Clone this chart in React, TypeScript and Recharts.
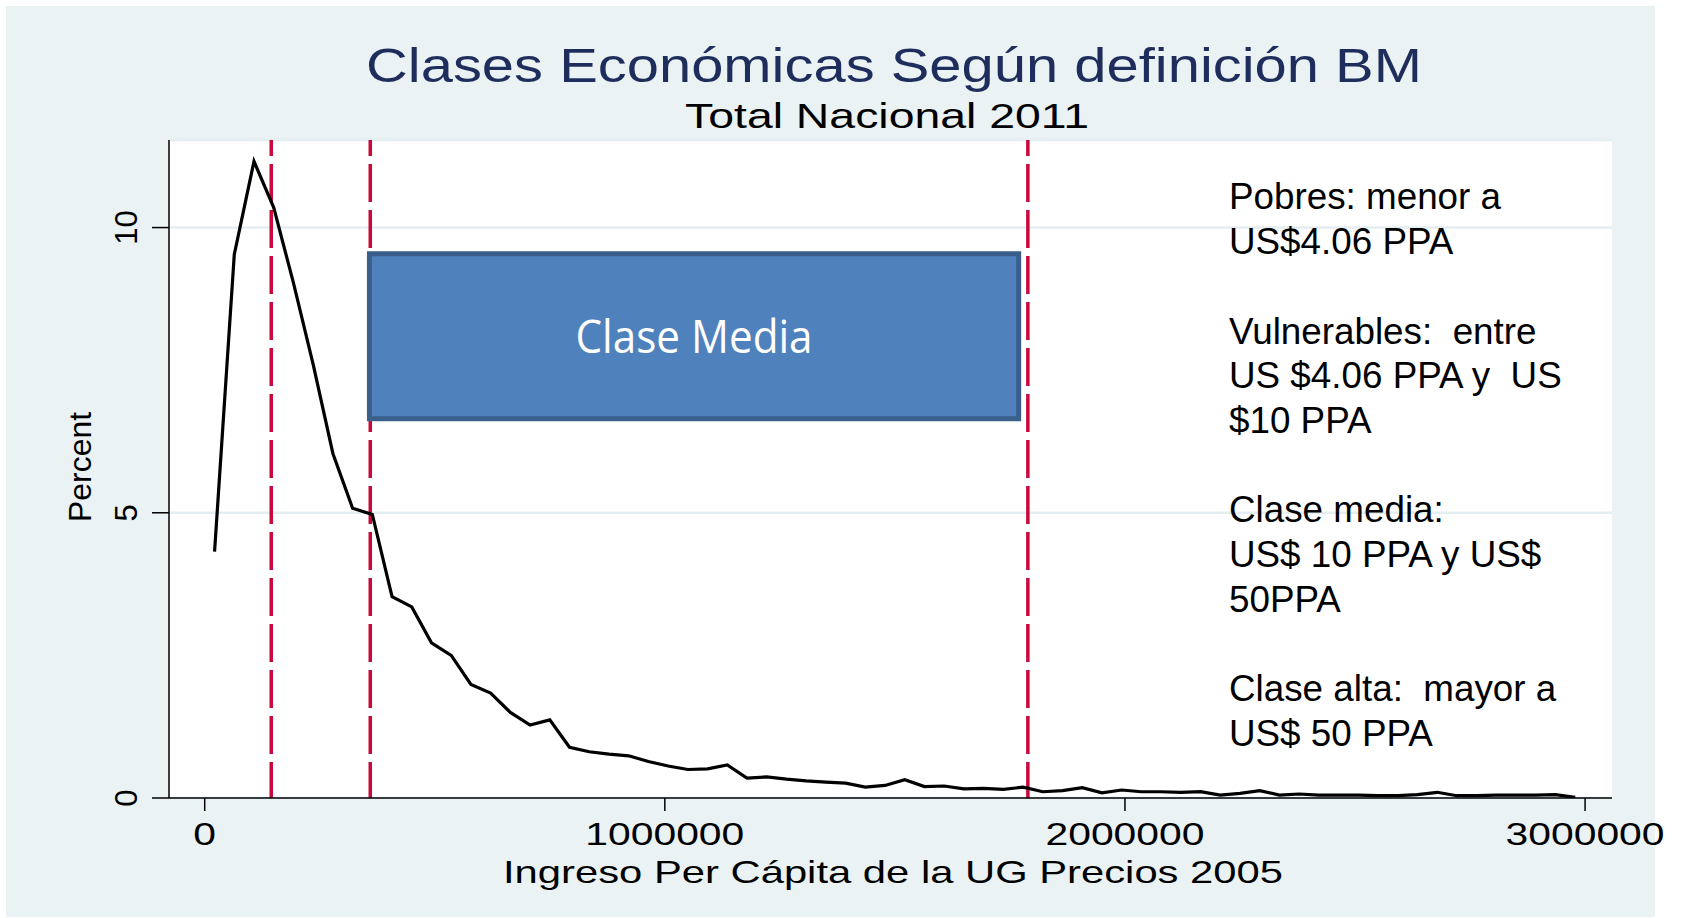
import { LineChart, Line, XAxis, YAxis, CartesianGrid, ReferenceLine, ReferenceArea } from "recharts";

// bin midpoints of per-capita income (Precios 2005)
const income = [
  21429, 64286, 107143, 150000, 192857, 235714, 278571, 321429, 364286, 407143,
  450000, 492857, 535714, 578571, 621429, 664286, 707143, 750000, 792857, 835714,
  878571, 921429, 964286, 1007143, 1050000, 1092857, 1135714, 1178571, 1221429, 1264286,
  1307143, 1350000, 1392857, 1435714, 1478571, 1521429, 1564286, 1607143, 1650000, 1692857,
  1735714, 1778571, 1821429, 1864286, 1907143, 1950000, 1992857, 2035714, 2078571, 2121429,
  2164286, 2207143, 2250000, 2292857, 2335714, 2378571, 2421429, 2464286, 2507143, 2550000,
  2592857, 2635714, 2678571, 2721429, 2764286, 2807143, 2850000, 2892857, 2935714, 2978571,
];

const percent = [
  4.32, 9.53, 11.16, 10.35, 9.03, 7.6, 6.04, 5.08, 4.97, 3.53,
  3.35, 2.72, 2.5, 1.99, 1.84, 1.5, 1.28, 1.37, 0.89, 0.81,
  0.77, 0.74, 0.64, 0.56, 0.5, 0.51, 0.58, 0.35, 0.37, 0.33,
  0.3, 0.28, 0.26, 0.19, 0.22, 0.32, 0.2, 0.21, 0.16, 0.17,
  0.15, 0.19, 0.11, 0.13, 0.18, 0.09, 0.14, 0.11, 0.11, 0.1,
  0.11, 0.05, 0.08, 0.13, 0.05, 0.07, 0.05, 0.05, 0.05, 0.04,
  0.04, 0.06, 0.1, 0.04, 0.04, 0.05, 0.05, 0.05, 0.06, 0.01,
];

// class thresholds (vertical dashed lines)
const cutoffs = [144600, 359800, 1789000];

const xTicks = [0, 1000000, 2000000, 3000000];
const yTicks = [0, 5, 10];

// "Clase Media" box, in data units
const boxX = [358000, 1769000];
const boxY = [6.65, 9.54];
const boxLabel = "Clase Media";

const notes = [
  ["Pobres: menor a", "US$4.06 PPA"],
  ["Vulnerables:  entre", "US $4.06 PPA y  US", "$10 PPA"],
  ["Clase media:", "US$ 10 PPA y US$", "50PPA"],
  ["Clase alta:  mayor a", "US$ 50 PPA"],
];

const data = income.map((x, i) => ({ income: x, percent: percent[i] }));

const FONT = "'Liberation Sans', Arial, sans-serif";

const XTick = ({ x, y, payload }: any) => {
  const s = String(payload.value);
  return (
    <text
      x={x}
      y={y + 32}
      textAnchor="middle"
      fontFamily={FONT}
      fontSize={31}
      fill="#000"
      textLength={22.7 * s.length}
      lengthAdjust="spacingAndGlyphs"
    >
      {s}
    </text>
  );
};

const YTick = ({ x, y, payload }: any) => (
  <text
    x={x - 13}
    y={y}
    transform={`rotate(-90 ${x - 13} ${y})`}
    textAnchor="middle"
    fontFamily={FONT}
    fontSize={31}
    fill="#000"
  >
    {payload.value}
  </text>
);

const BoxText = ({ viewBox }: any) => {
  const cx = viewBox.x + viewBox.width / 2;
  const cy = viewBox.y + viewBox.height / 2;
  return (
    <text
      x={cx}
      y={cy + 17}
      textAnchor="middle"
      fill="#fff"
      fontFamily="'Open Sans', 'Noto Sans', sans-serif"
      fontSize={46}
      textLength={237}
      lengthAdjust="spacingAndGlyphs"
    >
      {boxLabel}
    </text>
  );
};

function NoteLines() {
  let row = 0;
  const out: JSX.Element[] = [];
  notes.forEach((para) => {
    para.forEach((line) => {
      out.push(
        <text
          key={row}
          x={1229}
          y={209.4 + row * 44.7}
          fontFamily={FONT}
          fontSize={36.8}
          fill="#000"
          xmlSpace="preserve"
          style={{ whiteSpace: "pre" }}
        >
          {line}
        </text>
      );
      row++;
    });
    row++;
  });
  return <>{out}</>;
}

export default function App() {
  return (
    <div style={{ position: "absolute", left: 0, top: 0, width: 1687, height: 918, background: "#fff" }}>
      <div style={{ position: "absolute", left: 6, top: 6, width: 1649, height: 911, background: "#eaf2f3" }} />
      <div style={{ position: "absolute", left: 0, top: 0 }}>
        <LineChart
          width={1687}
          height={918}
          data={data}
          margin={{ top: 140, right: 75, bottom: 20, left: 69 }}
        >
          <CartesianGrid
            vertical={false}
            fill="#fff"
            fillOpacity={1}
            stroke="#e4edf0"
            strokeWidth={2.5}
          />
          <XAxis
            dataKey="income"
            type="number"
            domain={[-77600, 3058500]}
            ticks={xTicks}
            interval={0}
            height={100}
            tickSize={13}
            axisLine={{ stroke: "#000", strokeWidth: 1.5 }}
            tickLine={{ stroke: "#000", strokeWidth: 1.5 }}
            tick={<XTick />}
            allowDataOverflow
          />
          <YAxis
            type="number"
            domain={[0, 11.535]}
            ticks={yTicks}
            interval={0}
            width={100}
            tickSize={17}
            axisLine={{ stroke: "#000", strokeWidth: 1.5 }}
            tickLine={{ stroke: "#000", strokeWidth: 1.5 }}
            tick={<YTick />}
            allowDataOverflow
          />
          {cutoffs.map((c) => (
            <ReferenceLine
              key={c}
              x={c}
              stroke="#c8093a"
              strokeWidth={3.5}
              strokeDasharray="38 8"
              strokeDashoffset={2}
              zIndex={300}
            />
          ))}
          <ReferenceArea
            x1={boxX[0]}
            x2={boxX[1]}
            y1={boxY[0]}
            y2={boxY[1]}
            fill="#4f81bd"
            fillOpacity={1}
            stroke="#3a5f8b"
            strokeWidth={5}
            zIndex={700}
            label={(p: any) => <BoxText {...p} />}
          />
          <Line
            type="linear"
            dataKey="percent"
            stroke="#000"
            strokeWidth={3.2}
            dot={false}
            activeDot={false}
            isAnimationActive={false}
          />
        </LineChart>
      </div>
      <svg
        width={1687}
        height={918}
        style={{ position: "absolute", left: 0, top: 0, pointerEvents: "none" }}
      >
        <text
          x={894}
          y={82}
          textAnchor="middle"
          fontFamily={FONT}
          fontSize={49}
          fill="#1e2d5c"
          textLength={1056}
          lengthAdjust="spacingAndGlyphs"
        >
          Clases Económicas Según definición BM
        </text>
        <text
          x={887}
          y={128}
          textAnchor="middle"
          fontFamily={FONT}
          fontSize={35}
          fill="#000"
          textLength={404}
          lengthAdjust="spacingAndGlyphs"
        >
          Total Nacional 2011
        </text>
        <text
          x={893}
          y={883}
          textAnchor="middle"
          fontFamily={FONT}
          fontSize={32}
          fill="#000"
          textLength={780}
          lengthAdjust="spacingAndGlyphs"
        >
          Ingreso Per Cápita de la UG Precios 2005
        </text>
        <text
          x={91}
          y={467}
          transform="rotate(-90 91 467)"
          textAnchor="middle"
          fontFamily={FONT}
          fontSize={32}
          fill="#000"
          textLength={110}
          lengthAdjust="spacingAndGlyphs"
        >
          Percent
        </text>
        <NoteLines />
      </svg>
    </div>
  );
}
